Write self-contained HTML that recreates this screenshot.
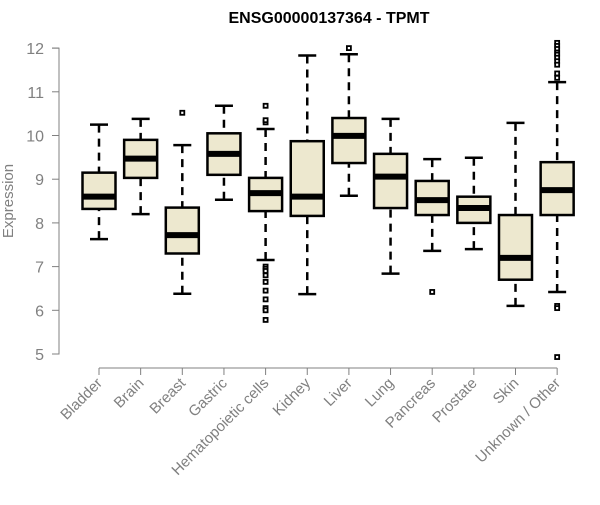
<!DOCTYPE html>
<html><head><meta charset="utf-8"><style>
body{margin:0;background:#fff;}
svg{font-family:"Liberation Sans",sans-serif;}
</style></head><body>
<svg id="chart" width="600" height="500"></svg>
<script>
const categories=["Bladder","Brain","Breast","Gastric","Hematopoietic cells","Kidney","Liver","Lung","Pancreas","Prostate","Skin","Unknown / Other"];
const lows=[7.63,8.2,6.38,8.53,7.15,6.37,8.62,6.84,7.36,7.4,6.1,6.42];
const q1s=[8.32,9.03,7.3,9.1,8.27,8.16,9.37,8.34,8.18,8.0,6.7,8.18];
const medians=[8.6,9.47,7.72,9.58,8.68,8.6,9.99,9.06,8.52,8.34,7.2,8.75];
const q3s=[9.15,9.9,8.35,10.05,9.03,9.87,10.4,9.58,8.96,8.6,8.18,9.39];
const highs=[10.25,10.38,9.78,10.68,10.15,11.83,11.86,10.38,9.46,9.49,10.29,11.22];
const outliers=[[],[],[10.52],[],[10.3,10.35,10.68,7.0,6.95,6.9,6.8,6.65,6.45,6.25,6.05,6.0,5.78],[],[12.0],[],[6.42],[],[],[12.12,12.05,11.98,11.9,11.85,11.78,11.7,11.62,11.42,11.32,6.1,6.05,4.93]];
const yTicks=[5,6,7,8,9,10,11,12];

const NS="http://www.w3.org/2000/svg";
const svg=document.getElementById('chart');
const y=v=>354-(v-5)*43.7;
const x=i=>99+i*41.65;
function mk(tag,attrs,parent){const e=document.createElementNS(NS,tag);for(const k in attrs)e.setAttribute(k,attrs[k]);(parent||svg).appendChild(e);return e;}

const title=mk('text',{x:329,y:23,'text-anchor':'middle','font-size':16,'font-weight':'bold',fill:'#000'});
title.textContent="ENSG00000137364 - TPMT";



const ya=mk('path',{d:`M52 ${y(12)}H59V${y(5)}H52`,stroke:'#808080',fill:'none','stroke-width':1});


yTicks.forEach(t=>{
  const l=mk('line',{x1:52,x2:59,y1:y(t),y2:y(t),stroke:'#808080'});
  
  
  const tx=mk('text',{x:44,y:y(t)+6,'text-anchor':'end','font-size':16,fill:'#808080'});
  tx.textContent=t;
  
  
});
const yt=mk('text',{x:13,y:201,'text-anchor':'middle','font-size':15,fill:'#808080',transform:'rotate(-90 13 201)'});
yt.textContent="Expression";



const xa=mk('line',{x1:x(0),x2:x(11),y1:368,y2:368,stroke:'#808080'});



categories.forEach((c,i)=>{
  const cx=x(i);
  const g=mk('g',{});
  
  
  mk('line',{x1:cx,x2:cx,y1:y(highs[i]),y2:y(q3s[i]),stroke:'#000','stroke-width':2.5,'stroke-dasharray':'8,6'},g);
  mk('line',{x1:cx,x2:cx,y1:y(lows[i]),y2:y(q1s[i]),stroke:'#000','stroke-width':2.5,'stroke-dasharray':'8,6'},g);
  mk('line',{x1:cx-9,x2:cx+9,y1:y(highs[i]),y2:y(highs[i]),stroke:'#000','stroke-width':2.5},g);
  mk('line',{x1:cx-9,x2:cx+9,y1:y(lows[i]),y2:y(lows[i]),stroke:'#000','stroke-width':2.5},g);
  mk('rect',{x:cx-16.5,y:y(q3s[i]),width:33,height:y(q1s[i])-y(q3s[i]),fill:'#ede8cf',stroke:'#000','stroke-width':2.5},g);
  mk('line',{x1:cx-16.5,x2:cx+16.5,y1:y(medians[i]),y2:y(medians[i]),stroke:'#000','stroke-width':6},g);
  outliers[i].forEach(o=>{
    const p=mk('rect',{x:cx-2,y:y(o)-2,width:4,height:4,fill:'#fff',stroke:'#000','stroke-width':1.8},g);
    
    
  });
  const tk=mk('line',{x1:cx,x2:cx,y1:368,y2:375,stroke:'#808080'});
  
  
  const lb=mk('text',{x:cx+4,y:384,'text-anchor':'end','font-size':15,fill:'#808080',transform:`rotate(-45 ${cx+4} 384)`});
  lb.textContent=c;
  
  
});
</script>
</body></html>
